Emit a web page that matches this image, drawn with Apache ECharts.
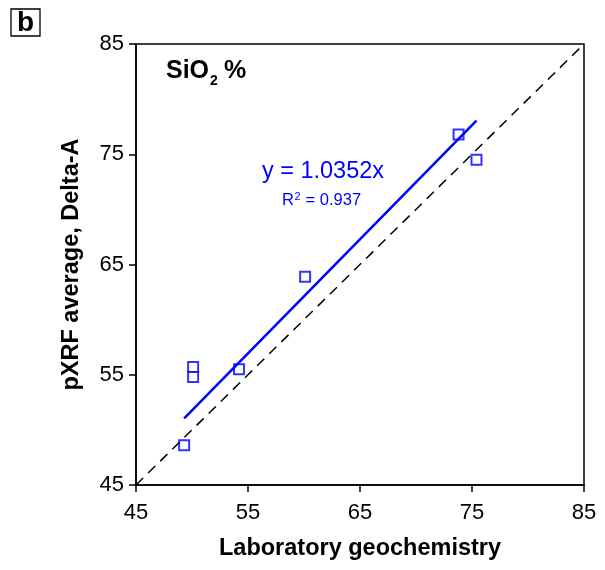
<!DOCTYPE html>
<html>
<head>
<meta charset="utf-8">
<script src="https://cdn.jsdelivr.net/npm/echarts@6/dist/echarts.min.js"></script>
<style>html,body{margin:0;padding:0;background:#fff}#c{width:605px;height:570px}</style>
</head>
<body>
<div id="c"></div>
<script>
// Data
const labSiO2 = [49.3, 50.1, 50.1, 54.2, 60.1, 73.8, 75.4];
const pxrfSiO2 = [48.6, 55.7, 54.8, 55.5, 63.9, 76.8, 74.5];
const slope = 1.0352;
const r2 = 0.937;
const axisTicks = [45, 55, 65, 75, 85];

const points = labSiO2.map((x, i) => [x, pxrfSiO2[i]]);
const xMin = Math.min(...labSiO2), xMax = Math.max(...labSiO2);
const fitLine = [[xMin, slope * xMin], [xMax, slope * xMax]];
const oneToOne = [[axisTicks[0], axisTicks[0]], [axisTicks[axisTicks.length-1], axisTicks[axisTicks.length-1]]];

const FONT = '"Liberation Sans", Arial, sans-serif';
const chart = echarts.init(document.getElementById('c'), null, {renderer: 'canvas'});
const axisCommon = {
  type: 'value', min: 45, max: 85, interval: 10,
  axisLine: {show: true, onZero: false, lineStyle: {color: '#000', width: 1.5}},
  axisTick: {show: true, inside: false, length: 7, lineStyle: {color: '#000', width: 1.5}},
  splitLine: {show: false},
  axisLabel: {color: '#000', fontSize: 22, fontFamily: FONT},
  nameLocation: 'middle',
  nameTextStyle: {color: '#000', fontSize: 23.5, fontWeight: 'bold', fontFamily: FONT}
};
chart.setOption({
  animation: false,
  backgroundColor: '#fff',
  grid: {left: 136, right: 21, top: 44, bottom: 85, show: true, borderColor: '#000', borderWidth: 1.5, backgroundColor: 'transparent'},
  xAxis: Object.assign({}, axisCommon, {name: 'Laboratory geochemistry', nameGap: 52, axisLabel: Object.assign({}, axisCommon.axisLabel, {margin: 17})}),
  yAxis: Object.assign({}, axisCommon, {name: 'pXRF average, Delta-A', nameGap: 52, axisLabel: Object.assign({}, axisCommon.axisLabel, {margin: 12})}),
  series: [
    {type: 'line', data: oneToOne, symbol: 'none', silent: true,
     lineStyle: {color: '#000', width: 1.5, type: [10, 7]}},
    {type: 'line', data: fitLine, symbol: 'none', silent: true,
     lineStyle: {color: '#0000ff', width: 2.5}},
    {type: 'scatter', data: points, symbol: 'rect', symbolSize: 10,
     itemStyle: {color: '#fff', borderColor: '#0000ff', borderWidth: 2}}
  ],
  graphic: [
    {type: 'rect', shape: {x: 11, y: 9, width: 29, height: 27}, style: {fill: '#fff', stroke: '#000', lineWidth: 1.3}},
    {type: 'text', x: 25.5, y: 23, style: {text: 'b', font: 'bold 28px ' + FONT, fill: '#000', align: 'center', verticalAlign: 'middle'}},
    {type: 'text', x: 166, y: 84, style: {text: 'SiO', font: 'bold 25px ' + FONT, fill: '#000', verticalAlign: 'bottom'}},
    {type: 'text', x: 210, y: 88, style: {text: '2', font: 'bold 14px ' + FONT, fill: '#000', verticalAlign: 'bottom'}},
    {type: 'text', x: 224, y: 84, style: {text: '%', font: 'bold 25px ' + FONT, fill: '#000', verticalAlign: 'bottom'}},
    {type: 'text', x: 323, y: 172, style: {text: 'y = ' + slope.toFixed(4) + 'x', font: '23.5px ' + FONT, fill: '#0000ff', align: 'center', verticalAlign: 'middle'}},
    {type: 'text', x: 282, y: 209, style: {text: 'R', font: '16.5px ' + FONT, fill: '#0000ff', verticalAlign: 'bottom'}},
    {type: 'text', x: 294.5, y: 202, style: {text: '2', font: '11px ' + FONT, fill: '#0000ff', verticalAlign: 'bottom'}},
    {type: 'text', x: 301, y: 209, style: {text: ' = ' + r2.toFixed(3), font: '16.5px ' + FONT, fill: '#0000ff', verticalAlign: 'bottom'}}
  ]
});
</script>
</body>
</html>
